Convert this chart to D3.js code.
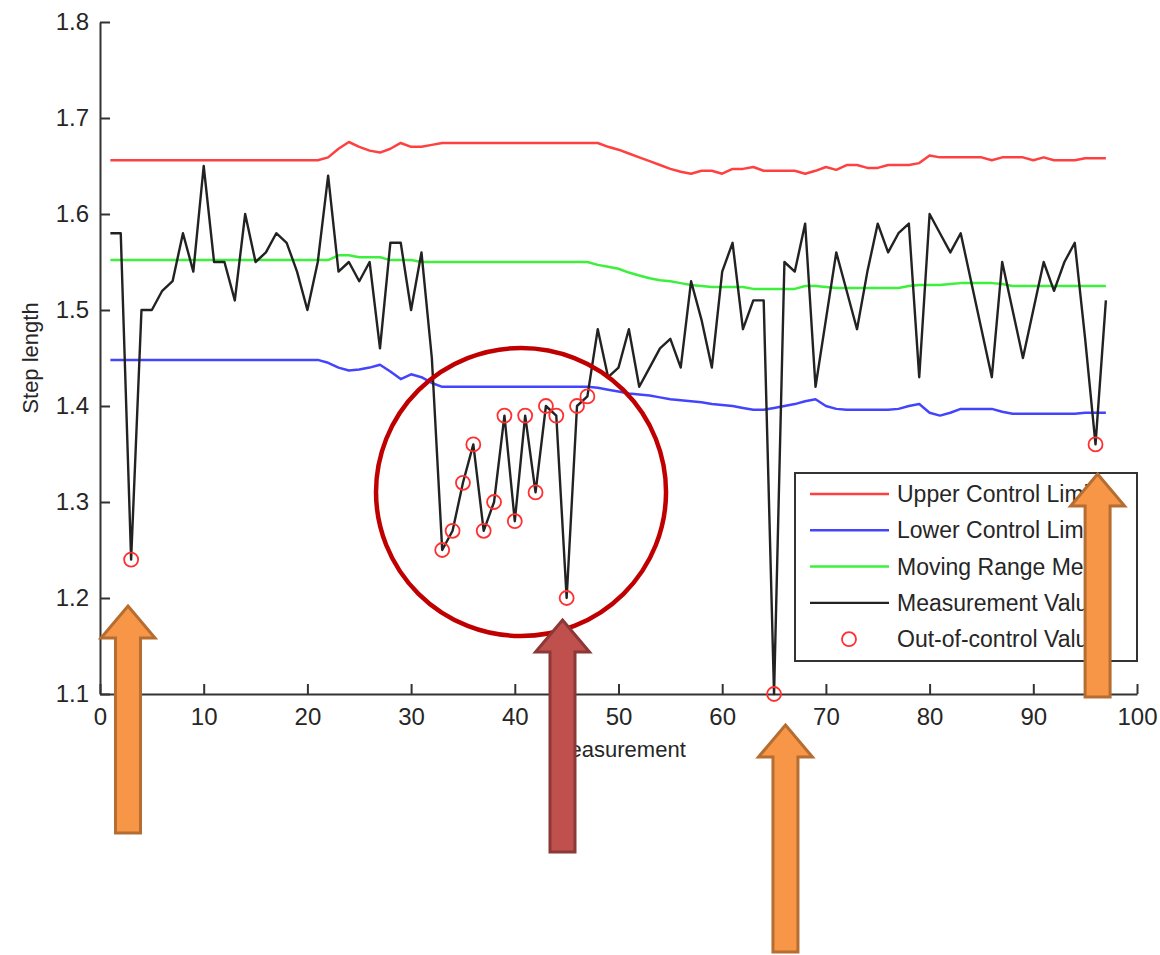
<!DOCTYPE html>
<html lang="en">
<head>
<meta charset="utf-8">
<title>Step length control chart</title>
<script src="https://d3js.org/d3.v7.min.js"></script>
<style>
  body { margin: 0; background: #fff; }
  svg { display: block; font-family: "Liberation Sans", Arial, sans-serif; }
</style>
</head>
<body>
<script>
// ---- data ----
var measurement = d3.range(1, 98); // index 1..97

var stepLength = [1.58, 1.58, 1.24, 1.50, 1.50, 1.52, 1.53, 1.58, 1.54, 1.65,
                  1.55, 1.55, 1.51, 1.60, 1.55, 1.56, 1.58, 1.57, 1.54, 1.50,
                  1.55, 1.64, 1.54, 1.55, 1.53, 1.55, 1.46, 1.57, 1.57, 1.50,
                  1.56, 1.45, 1.25, 1.27, 1.32, 1.36, 1.27, 1.30, 1.39, 1.28,
                  1.39, 1.31, 1.40, 1.39, 1.20, 1.40, 1.41, 1.48, 1.43, 1.44,
                  1.48, 1.42, 1.44, 1.46, 1.47, 1.44, 1.53, 1.49, 1.44, 1.54,
                  1.57, 1.48, 1.51, 1.51, 1.10, 1.55, 1.54, 1.59, 1.42, 1.49,
                  1.56, 1.52, 1.48, 1.54, 1.59, 1.56, 1.58, 1.59, 1.43, 1.60,
                  1.58, 1.56, 1.58, 1.53, 1.48, 1.43, 1.55, 1.50, 1.45, 1.50,
                  1.55, 1.52, 1.55, 1.57, 1.47, 1.36, 1.51];

var upperLimit = [1.656, 1.656, 1.656, 1.656, 1.656, 1.656, 1.656, 1.656, 1.656, 1.656,
                  1.656, 1.656, 1.656, 1.656, 1.656, 1.656, 1.656, 1.656, 1.656, 1.656,
                  1.656, 1.659, 1.668, 1.675, 1.670, 1.666, 1.664, 1.668, 1.674, 1.670,
                  1.670, 1.672, 1.674, 1.674, 1.674, 1.674, 1.674, 1.674, 1.674, 1.674,
                  1.674, 1.674, 1.674, 1.674, 1.674, 1.674, 1.674, 1.674, 1.670, 1.667,
                  1.663, 1.659, 1.655, 1.651, 1.647, 1.644, 1.642, 1.645, 1.645, 1.642,
                  1.647, 1.647, 1.649, 1.645, 1.645, 1.645, 1.645, 1.642, 1.645, 1.649,
                  1.646, 1.651, 1.651, 1.648, 1.648, 1.651, 1.651, 1.651, 1.653, 1.661,
                  1.659, 1.659, 1.659, 1.659, 1.659, 1.656, 1.659, 1.659, 1.659, 1.656,
                  1.659, 1.656, 1.656, 1.656, 1.658, 1.658, 1.658];

var lowerLimit = [1.448, 1.448, 1.448, 1.448, 1.448, 1.448, 1.448, 1.448, 1.448, 1.448,
                  1.448, 1.448, 1.448, 1.448, 1.448, 1.448, 1.448, 1.448, 1.448, 1.448,
                  1.448, 1.445, 1.440, 1.437, 1.438, 1.440, 1.443, 1.436, 1.428, 1.433,
                  1.430, 1.424, 1.420, 1.420, 1.420, 1.420, 1.420, 1.420, 1.420, 1.420,
                  1.420, 1.420, 1.420, 1.420, 1.420, 1.420, 1.420, 1.419, 1.417, 1.415,
                  1.413, 1.412, 1.411, 1.409, 1.407, 1.406, 1.405, 1.404, 1.402, 1.401,
                  1.400, 1.398, 1.396, 1.396, 1.398, 1.400, 1.402, 1.405, 1.407, 1.400,
                  1.397, 1.396, 1.396, 1.396, 1.396, 1.396, 1.397, 1.400, 1.402, 1.393,
                  1.390, 1.393, 1.397, 1.397, 1.397, 1.397, 1.394, 1.392, 1.392, 1.392,
                  1.392, 1.392, 1.392, 1.392, 1.393, 1.393, 1.393];

var rangeMean = [1.552, 1.552, 1.552, 1.552, 1.552, 1.552, 1.552, 1.552, 1.552, 1.552,
                 1.552, 1.552, 1.552, 1.552, 1.552, 1.552, 1.552, 1.552, 1.552, 1.552,
                 1.552, 1.552, 1.557, 1.557, 1.555, 1.555, 1.555, 1.552, 1.552, 1.552,
                 1.550, 1.550, 1.550, 1.550, 1.550, 1.550, 1.550, 1.550, 1.550, 1.550,
                 1.550, 1.550, 1.550, 1.550, 1.550, 1.550, 1.550, 1.547, 1.545, 1.543,
                 1.539, 1.536, 1.533, 1.531, 1.530, 1.528, 1.526, 1.525, 1.524, 1.524,
                 1.524, 1.524, 1.522, 1.522, 1.522, 1.522, 1.522, 1.525, 1.525, 1.524,
                 1.523, 1.523, 1.523, 1.523, 1.523, 1.523, 1.523, 1.525, 1.526, 1.526,
                 1.526, 1.527, 1.528, 1.528, 1.528, 1.528, 1.527, 1.525, 1.525, 1.525,
                 1.525, 1.525, 1.525, 1.525, 1.525, 1.525, 1.525];

var outOfControl = [3, 33, 34, 35, 36, 37, 38, 39, 40, 41, 42, 43, 44, 45, 46, 47, 65, 96];

var xTicks = [0, 10, 20, 30, 40, 50, 60, 70, 80, 90, 100];
var yTicks = [1.1, 1.2, 1.3, 1.4, 1.5, 1.6, 1.7, 1.8];

var legendLabels = ["Upper Control Limit", "Lower Control Limit", "Moving Range Mean",
                    "Measurement Value", "Out-of-control Value"];

// ---- drawing ----
var w = 1160, h = 955;
var textColor = "#262626";

var svg = d3.select("body").append("svg")
    .attr("width", w)
    .attr("height", h);

var x = d3.scaleLinear().domain([0, 100]).range([100, 1137]);
var y = d3.scaleLinear().domain([1.1, 1.8]).range([694, 22]);

// axes (ticks point inward, like matlab)
var xAxis = svg.append("g")
    .attr("transform", "translate(0," + y(1.1) + ")")
    .call(d3.axisBottom(x).tickValues(xTicks).tickSize(-10).tickSizeOuter(0).tickPadding(14)
            .tickFormat(d3.format("d")));
var yAxis = svg.append("g")
    .attr("transform", "translate(" + x(0) + ",0)")
    .call(d3.axisLeft(y).tickValues(yTicks).tickSize(-10).tickSizeOuter(0).tickPadding(11)
            .tickFormat(d3.format(".1f")));

[xAxis, yAxis].forEach(function(g) {
    g.attr("font-size", 24).attr("font-family", "Liberation Sans, Arial, sans-serif");
    g.select(".domain").attr("stroke", "#333").attr("stroke-width", 2);
    g.selectAll(".tick line").attr("stroke", "#333").attr("stroke-width", 2);
    g.selectAll(".tick text").attr("fill", textColor);
});

svg.append("text")
    .attr("x", (x(0) + x(100)) / 2)
    .attr("y", 757)
    .attr("text-anchor", "middle")
    .attr("font-size", 22)
    .attr("fill", textColor)
    .text("Measurement");

svg.append("text")
    .attr("transform", "translate(38," + (y(1.1) + y(1.8)) / 2 + ") rotate(-90)")
    .attr("text-anchor", "middle")
    .attr("font-size", 22)
    .attr("fill", textColor)
    .text("Step length");

// series
var series = [
    {values: upperLimit, color: "#ff4040", width: 2.5},
    {values: lowerLimit, color: "#4444ff", width: 2.5},
    {values: rangeMean,  color: "#3cf03c", width: 2.5},
    {values: stepLength, color: "#222222", width: 2.4}
];

var line = d3.line()
    .x(function(d) { return x(d[0]); })
    .y(function(d) { return y(d[1]); });

svg.selectAll("path.series")
    .data(series)
    .enter()
    .append("path")
    .attr("class", "series")
    .attr("fill", "none")
    .attr("stroke", function(d) { return d.color; })
    .attr("stroke-width", function(d) { return d.width; })
    .attr("stroke-linejoin", "round")
    .attr("d", function(d) {
        return line(measurement.map(function(m, i) { return [m, d.values[i]]; }));
    });

svg.selectAll("circle.ooc")
    .data(outOfControl)
    .enter()
    .append("circle")
    .attr("class", "ooc")
    .attr("cx", function(d) { return x(d); })
    .attr("cy", function(d) { return y(stepLength[d - 1]); })
    .attr("r", 7)
    .attr("fill", "none")
    .attr("stroke", "#ff3030")
    .attr("stroke-width", 1.8);

// legend
var legend = svg.append("g").attr("transform", "translate(795,473)");
legend.append("rect")
    .attr("width", x(100) - 795)
    .attr("height", 188)
    .attr("fill", "#fff")
    .attr("stroke", "#333")
    .attr("stroke-width", 2);

var legendRows = legend.selectAll("g.row")
    .data(legendLabels)
    .enter()
    .append("g")
    .attr("class", "row")
    .attr("transform", function(d, i) { return "translate(0," + (21 + i * 36.3) + ")"; });

legendRows.filter(function(d, i) { return i < 4; })
    .append("line")
    .attr("x1", 15).attr("x2", 94)
    .attr("stroke", function(d, i) { return series[i].color; })
    .attr("stroke-width", function(d, i) { return series[i].width; });

legendRows.filter(function(d, i) { return i === 4; })
    .append("circle")
    .attr("cx", 54).attr("r", 7)
    .attr("fill", "none")
    .attr("stroke", "#ff3030")
    .attr("stroke-width", 1.8);

legendRows.append("text")
    .attr("x", 102)
    .attr("dy", "0.35em")
    .attr("font-size", 23)
    .attr("fill", textColor)
    .text(function(d) { return d; });

// annotations drawn over the chart
svg.append("ellipse")
    .attr("cx", x(40.6))
    .attr("cy", y(1.3104))
    .attr("rx", 145)
    .attr("ry", 144)
    .attr("fill", "none")
    .attr("stroke", "#c00000")
    .attr("stroke-width", 4.5);

var arrows = [
    {at: 2.7,  tip: 606, end: 833, fill: "#f79646", stroke: "#b66d31"},
    {at: 44.6, tip: 620, end: 852, fill: "#c0504d", stroke: "#8c3836"},
    {at: 66.1, tip: 725, end: 952, fill: "#f79646", stroke: "#b66d31"},
    {at: 96.2, tip: 474, end: 697, fill: "#f79646", stroke: "#b66d31"}
];

svg.selectAll("path.arrow")
    .data(arrows)
    .enter()
    .append("path")
    .attr("class", "arrow")
    .attr("fill", function(d) { return d.fill; })
    .attr("stroke", function(d) { return d.stroke; })
    .attr("stroke-width", 3)
    .attr("stroke-linejoin", "miter")
    .attr("d", function(d) {
        var cx = x(d.at), head = 32, hw = 27, sw = 12.5;
        return "M" + cx + "," + d.tip +
               "L" + (cx + hw) + "," + (d.tip + head) +
               "L" + (cx + sw) + "," + (d.tip + head) +
               "L" + (cx + sw) + "," + d.end +
               "L" + (cx - sw) + "," + d.end +
               "L" + (cx - sw) + "," + (d.tip + head) +
               "L" + (cx - hw) + "," + (d.tip + head) + "Z";
    });
</script>
</body>
</html>
